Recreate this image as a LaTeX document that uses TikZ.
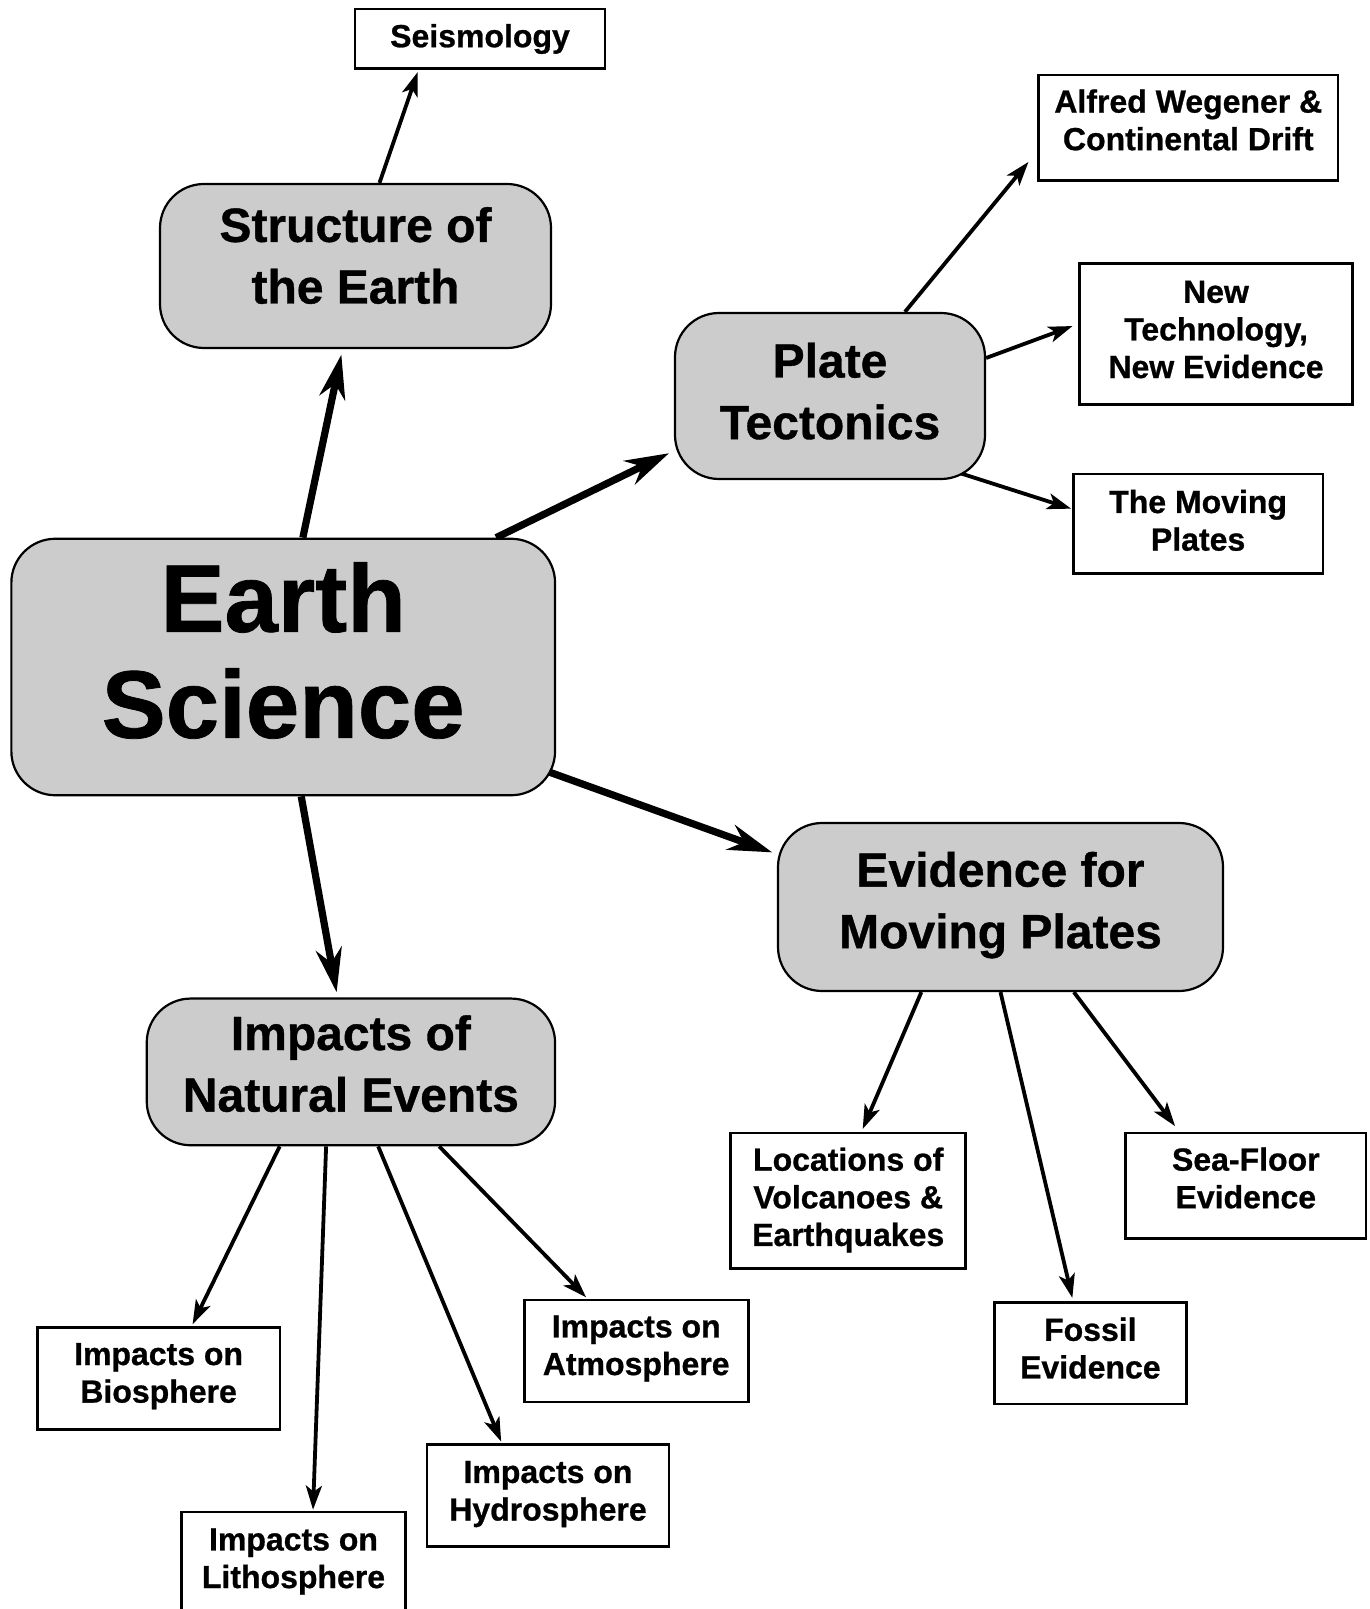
\documentclass[tikz,border=0pt]{standalone}
\usepackage{fontspec}
\setmainfont{Liberation Sans}[BoldFeatures={FakeBold=0.8}]
\usetikzlibrary{arrows.meta,calc}
\definecolor{boxgray}{RGB}{204,204,204}
\pgfdeclarelayer{background}
\pgfsetlayers{background,main}
\begin{document}
\begin{tikzpicture}[x=0.5pt,y=-0.5pt,
  bigbox/.style={draw=black, line width=1.1pt, fill=boxgray, rounded corners=22pt, inner sep=0pt, align=center, font=\bfseries\fontsize{24}{30.8}\selectfont},
  smallbox/.style={draw=black, line width=1.3pt, fill=white, inner sep=0pt, align=center, font=\bfseries\fontsize{16}{18.8}\selectfont},
  bigarrow/.style={line width=3.6pt, -{Stealth[length=22pt,width=13pt,inset=7pt]}},
  smallarrow/.style={line width=1.9pt, -{Stealth[length=12pt,width=8pt,inset=3pt]}}]
\useasboundingbox (0,0) rectangle (1369,1609);

\node[smallbox, minimum width=125pt, minimum height=29.8pt] (sei) at (480,39) {Seismology};
\node[bigbox, minimum width=195.5pt, minimum height=82pt, text depth=10.7pt] (st) at (355.5,266) {Structure of\\the Earth};
\node[smallbox, minimum width=149.75pt, minimum height=52.8pt, text depth=8pt] (alf) at (1188.3,127.8) {Alfred Wegener \&\\Continental Drift};
\node[bigbox, minimum width=155pt, minimum height=83pt, text depth=5.1pt] (pt) at (830,396) {Plate\\Tectonics};
\node[smallbox, minimum width=136.5pt, minimum height=70.3pt, text depth=4.6pt] (nt) at (1216,334) {New\\Technology,\\New Evidence};
\node[smallbox, minimum width=124.7pt, minimum height=49.8pt, text depth=3.6pt] (mp) at (1198.1,523.8) {The Moving\\Plates};
\node[bigbox, minimum width=271.85pt, minimum height=128.25pt, text depth=17pt, font=\bfseries\fontsize{48}{53}\selectfont] (es) at (283.2,667) {Earth\\Science};
\node[bigbox, minimum width=222.5pt, minimum height=84pt, text depth=7pt] (ev) at (1000.5,907) {Evidence for\\Moving Plates};
\node[bigbox, minimum width=204.15pt, minimum height=73.35pt, text depth=8.5pt] (ine) at (350.9,1071.9) {Impacts of\\Natural Events};
\node[smallbox, minimum width=117.5pt, minimum height=67.7pt, text depth=4pt] (loc) at (848.2,1200.7) {Locations of\\Volcanoes \&\\Earthquakes};
\node[smallbox, minimum width=120.1pt, minimum height=52.8pt, text depth=8pt] (sf) at (1245.8,1185.8) {Sea-Floor\\Evidence};
\node[smallbox, minimum width=96pt, minimum height=50.8pt, text depth=5pt] (fos) at (1090.35,1353) {Fossil\\Evidence};
\node[smallbox, minimum width=121.35pt, minimum height=51pt, text depth=5.5pt] (bio) at (158.6,1378.3) {Impacts on\\Biosphere};
\node[smallbox, minimum width=112pt, minimum height=51pt, text depth=4.8pt] (lit) at (293.5,1563) {Impacts on\\Lithosphere};
\node[smallbox, minimum width=121pt, minimum height=51pt, text depth=5pt] (hyd) at (548,1495.7) {Impacts on\\Hydrosphere};
\node[smallbox, minimum width=112pt, minimum height=51pt, text depth=5.8pt] (atm) at (636.2,1351) {Impacts on\\Atmosphere};

\begin{pgfonlayer}{background}
\draw[bigarrow, shorten >=2.8pt] ($(es.north west)!0.536!(es.north east)$) -- ($(st.south west)!0.467!(st.south east)$);
\draw[bigarrow, shorten >=2.7pt] ($(es.north west)!0.89!(es.north east)$) -- ($(pt.north west)!0.826!(pt.south west)$);
\draw[bigarrow, shorten >=2.5pt] ($(es.south east)+(-20,-29)$) -- ($(ev.north west)!0.189!(ev.south west)$);
\draw[bigarrow, shorten >=2.6pt] ($(es.south west)!0.533!(es.south east)$) -- ($(ine.north west)!0.4675!(ine.north east)$);

\draw[smallarrow, shorten >=1pt] ($(st.north west)!0.561!(st.north east)$) -- ($(sei.south west)!0.256!(sei.south east)$);
\draw[smallarrow, shorten >=6.9pt] ($(pt.north west)!0.74!(pt.north east)$) -- ($(alf.north west)!0.717!(alf.south west)$);
\draw[smallarrow, shorten >=3pt] ($(pt.north east)!0.274!(pt.south east)$) -- ($(nt.north west)!0.43!(nt.south west)$);
\draw[smallarrow, shorten >=0.5pt] ($(pt.south east)+(-45,-13)$) -- ($(mp.north west)!0.355!(mp.south west)$);

\draw[smallarrow, shorten >=1.5pt] ($(ev.south west)!0.323!(ev.south east)$) -- ($(loc.north west)!0.556!(loc.north east)$);
\draw[smallarrow, shorten >=1.5pt] (ev.south) -- ($(fos.north west)!0.411!(fos.north east)$);
\draw[smallarrow, shorten >=3.5pt] ($(ev.south west)!0.664!(ev.south east)$) -- ($(sf.north west)!0.226!(sf.north east)$);

\draw[smallarrow, shorten >=1pt] ($(ine.south west)!0.3265!(ine.south east)$) -- ($(bio.north west)!0.635!(bio.north east)$);
\draw[smallarrow, shorten >=0.5pt] ($(ine.south west)!0.4396!(ine.south east)$) -- ($(lit.north west)!0.586!(lit.north east)$);
\draw[smallarrow, shorten >=1pt] ($(ine.south west)!0.5665!(ine.south east)$) -- ($(hyd.north west)!0.3116!(hyd.north east)$);
\draw[smallarrow, shorten >=1pt] ($(ine.south west)!0.715!(ine.south east)$) -- ($(atm.north west)!0.285!(atm.north east)$);
\end{pgfonlayer}
\end{tikzpicture}
\end{document}
